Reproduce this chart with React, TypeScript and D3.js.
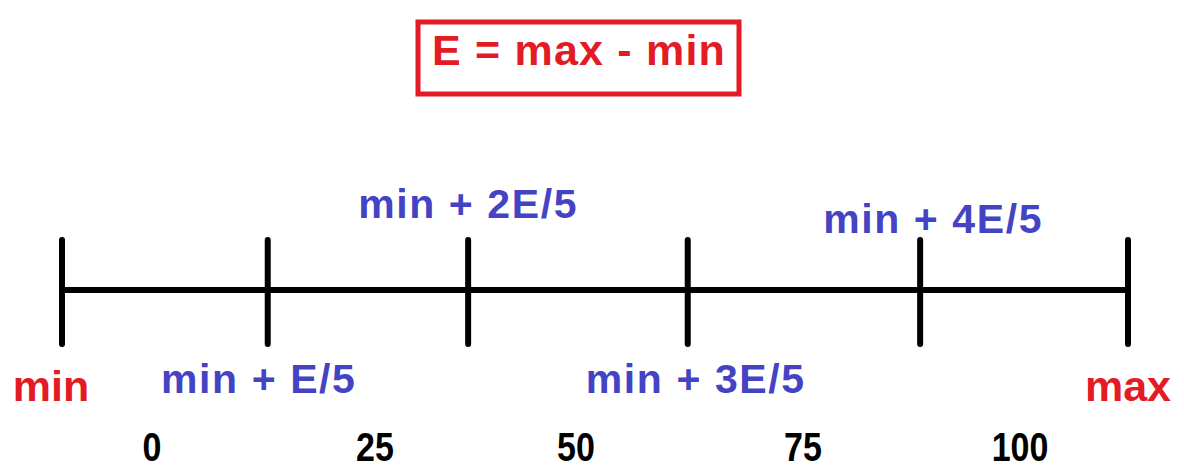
import * as d3 from "d3";

// tick marks along the number line (positions read as % of the line length)
const tickLabels = ["min", "min + E/5", "min + 2E/5", "min + 3E/5", "min + 4E/5", "max"];
const tickPositions = [0, 19.3, 38.1, 58.7, 80.5, 100];
const labelKinds = ["end", "step", "step", "step", "step", "end"];
const labelSides = ["below", "below", "above", "below", "above", "below"];

// percentage scale printed under the line
const percentValues = [0, 25, 50, 75, 100];

const formulaText = "E = max - min";

const W = 1184;
const H = 470;
const RED = "#e21b24";
const BLUE = "#4343c4";

export default function App() {
  const x = d3.scaleLinear().domain([0, 100]).range([62, 1128]);
  const xPct = d3.scaleLinear().domain([0, 100]).range([152, 1020]);
  const lineY = 290;
  const tickHalf = 50;

  // baseline for each label, depending on side / which above-row
  const labelY = (i: number) => {
    if (labelSides[i] === "above") return i === 2 ? 218 : 233;
    return labelKinds[i] === "end" ? 401 : 393;
  };

  return (
    <svg
      width={W}
      height={H}
      style={{ position: "absolute", left: 0, top: 0, background: "#fff" }}
      fontFamily="'Liberation Sans', Arial, sans-serif"
      fontWeight="bold"
    >
      {/* formula box */}
      <rect x={418} y={22} width={321} height={72} fill="none" stroke={RED} strokeWidth={5} />
      <text x={579} y={65} textAnchor="middle" fontSize={43} fill={RED} letterSpacing={1.2}>
        {formulaText}
      </text>

      {/* main line */}
      <line x1={x(0)} x2={x(100)} y1={lineY} y2={lineY} stroke="#000" strokeWidth={6} />

      {tickPositions.map((p, i) => (
        <g key={i}>
          <line
            x1={x(p)}
            x2={x(p)}
            y1={lineY - tickHalf}
            y2={lineY + tickHalf + 4}
            stroke="#000"
            strokeWidth={6}
            strokeLinecap="round"
          />
          <text
            x={x(p) + (i === 0 ? -11 : i === 3 ? 8 : i === 4 ? 13 : i === 1 ? -9 : 0)}
            y={labelY(i)}
            textAnchor="middle"
            fontSize={labelKinds[i] === "end" ? 43 : 41}
            letterSpacing={labelKinds[i] === "end" ? 0 : 1.6}
            fill={labelKinds[i] === "end" ? RED : BLUE}
          >
            {tickLabels[i]}
          </text>
        </g>
      ))}

      {percentValues.map((v) => (
        <text
          key={v}
          transform={`translate(${xPct(v) + (v === 25 ? 6 : v === 50 ? -10 : 0)},461) scale(0.85,1)`}
          textAnchor="middle"
          fontSize={40}
          fill="#000"
        >
          {v}
        </text>
      ))}
    </svg>
  );
}
